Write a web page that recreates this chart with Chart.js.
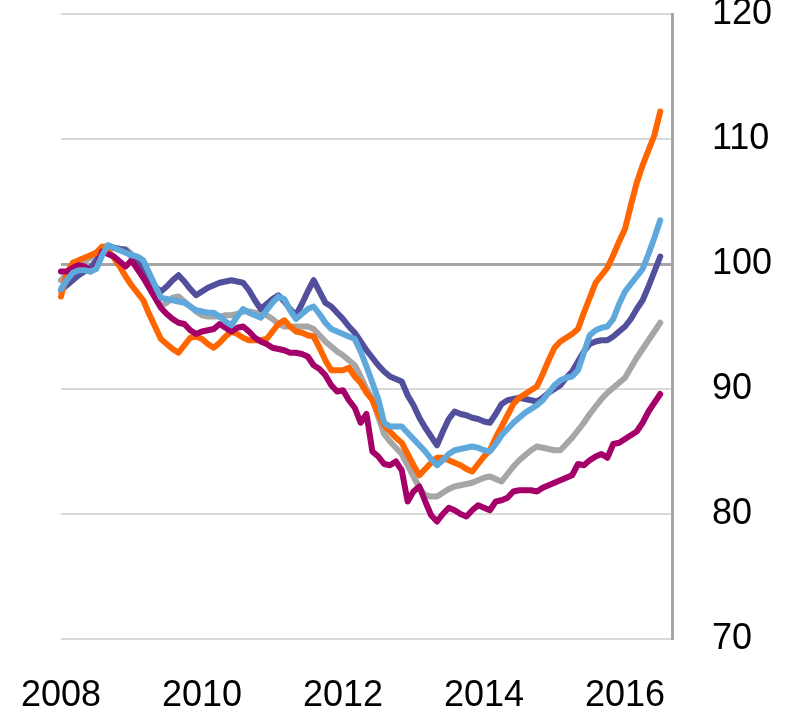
<!DOCTYPE html>
<html>
<head>
<meta charset="utf-8">
<script src="https://cdn.jsdelivr.net/npm/chart.js@4"></script>
<style>
  body { margin: 0; background: #fff; }
  #wrap { width: 800px; height: 708px; }
</style>
</head>
<body>
<div id="wrap"><canvas id="myChart" width="800" height="708"></canvas></div>
<script>
// monthly index, Jan 2008 .. Jul 2016 (two empty months at the end for the axis gap)
const startYear = 2008;
const monthCount = 105;
const months = [];
for (let i = 0; i < monthCount; i++) {
  months.push((startYear + Math.floor(i / 12)) + '-' + String(i % 12 + 1).padStart(2, '0'));
}

const orange = [97.4,99.3,100.1,100.3,100.5,100.7,100.9,101.4,101.1,100.5,99.8,99.0,
  98.3,97.7,97.1,96.0,95.0,94.0,93.6,93.2,92.9,93.5,94.1,94.2,
  94.0,93.6,93.3,93.7,94.2,94.6,94.4,94.1,93.9,93.9,93.9,94.0,
  94.6,95.2,95.5,95.0,94.6,94.5,94.3,94.2,93.3,92.3,91.5,91.5,
  91.5,91.7,91.0,90.5,89.7,89.1,88.0,87.1,86.6,86.1,85.7,84.8,
  83.9,83.1,83.6,84.1,84.5,84.5,84.3,84.1,83.9,83.6,83.4,84.0,
  84.6,85.1,86.1,87.0,87.9,88.8,89.3,89.6,89.9,90.2,91.2,92.3,
  93.3,93.8,94.1,94.4,94.8,96.1,97.3,98.5,99.1,99.7,100.7,101.8,
  102.8,104.7,106.5,107.9,109.1,110.3,112.2];

const lightBlue = [98.0,98.7,99.3,99.5,99.5,99.4,99.6,100.7,101.5,101.3,101.1,100.9,
  100.7,100.6,100.3,99.3,98.3,97.3,97.2,97.1,97.0,96.9,96.6,96.3,
  96.2,96.1,96.1,95.8,95.4,95.1,95.8,96.4,96.1,95.9,95.7,96.3,
  96.9,97.4,97.2,96.3,95.6,96.0,96.4,96.6,96.0,95.3,94.8,94.6,
  94.4,94.2,94.0,93.0,91.8,90.5,89.2,87.3,87.0,87.0,87.0,86.5,
  86.0,85.5,85.0,84.4,83.9,84.3,84.8,85.1,85.2,85.3,85.4,85.3,
  85.1,85.0,85.6,86.3,86.8,87.3,87.7,88.1,88.4,88.7,89.1,89.7,
  90.3,90.7,90.9,91.0,91.5,92.9,94.3,94.7,94.9,95.0,95.6,96.8,
  97.8,98.4,99.0,99.6,100.8,102.1,103.5];

const navy = [97.9,98.3,98.7,99.1,99.4,99.7,100.3,100.9,101.4,101.3,101.2,101.1,
  100.6,100.2,99.5,98.8,98.2,97.8,98.2,98.7,99.1,98.6,98.0,97.5,
  97.8,98.1,98.3,98.5,98.6,98.7,98.6,98.5,97.9,97.1,96.4,96.8,
  97.2,97.5,97.0,96.4,95.9,96.8,97.8,98.7,97.8,96.9,96.6,96.1,
  95.6,95.0,94.5,93.8,93.1,92.5,91.9,91.4,91.0,90.8,90.6,89.5,
  88.7,87.7,86.9,86.2,85.5,86.6,87.6,88.2,88.0,87.9,87.7,87.6,
  87.4,87.3,88.0,88.8,89.1,89.2,89.3,89.2,89.1,89.0,89.3,89.7,
  90.0,90.3,90.9,91.4,92.2,93.0,93.6,93.8,93.9,93.9,94.2,94.6,
  95.0,95.6,96.4,97.1,98.2,99.4,100.6];

const gray = [98.7,99.2,99.6,99.9,100.2,100.5,100.9,101.3,101.5,101.3,101.2,101.2,
  100.8,100.2,99.4,98.5,97.4,96.6,96.9,97.3,97.4,97.0,96.6,96.2,
  95.9,95.8,95.8,95.8,95.9,95.9,96.0,96.2,96.2,96.1,96.0,95.9,
  95.6,95.2,95.0,95.0,95.0,95.0,95.0,94.8,94.3,93.8,93.4,93.0,
  92.7,92.3,91.9,91.0,90.0,89.2,87.8,86.4,85.8,85.3,84.8,83.9,
  83.0,82.1,81.5,81.4,81.4,81.7,82.0,82.2,82.3,82.4,82.5,82.7,
  82.9,83.0,82.8,82.6,83.2,83.8,84.3,84.7,85.1,85.4,85.3,85.2,
  85.1,85.1,85.6,86.1,86.7,87.3,88.0,88.6,89.2,89.7,90.1,90.5,
  90.9,91.7,92.5,93.2,93.9,94.6,95.3];

const magenta = [99.4,99.4,99.7,99.9,99.8,99.4,99.7,101.0,100.8,100.6,100.2,99.8,
  100.3,99.6,98.9,98.1,97.3,96.5,96.0,95.6,95.3,95.2,94.7,94.4,
  94.6,94.7,94.8,95.2,94.9,94.6,94.9,95.0,94.6,94.1,93.8,93.6,
  93.3,93.2,93.1,92.9,92.9,92.8,92.6,91.9,91.6,91.1,90.3,89.8,
  89.9,89.1,88.5,87.3,88.0,85.0,84.6,84.0,83.9,84.2,83.5,81.0,
  81.8,82.2,81.0,79.9,79.4,80.0,80.5,80.3,80.0,79.8,80.3,80.7,
  80.5,80.3,81.0,81.1,81.3,81.8,81.9,81.9,81.9,81.8,82.1,82.3,
  82.5,82.7,82.9,83.1,84.0,83.9,84.3,84.6,84.8,84.5,85.6,85.7,
  86.0,86.3,86.6,87.3,88.2,88.9,89.6];

const yTicks = [70, 80, 90, 100, 110, 120];

Chart.defaults.font.family = '"Liberation Sans", Arial, sans-serif';
Chart.defaults.color = '#000';

function line(data, color) {
  return {
    data: data,
    borderColor: color,
    backgroundColor: color,
    borderWidth: 6,
    pointRadius: 0,
    tension: 0,
    borderCapStyle: 'round',
    borderJoinStyle: 'round',
    fill: false
  };
}

const ctx = document.getElementById('myChart');

new Chart(ctx, {
  type: 'line',
  data: {
    labels: months,
    datasets: [
      line(lightBlue, '#5fa8dc'),
      line(magenta, '#a50069'),
      line(orange, '#ff6600'),
      line(navy, '#524f9c'),
      line(gray, '#a6a6a6')
    ]
  },
  options: {
    responsive: false,
    animation: false,
    layout: { padding: { left: 61, top: 14, right: 0, bottom: 0 } },
    plugins: { legend: { display: false }, tooltip: { enabled: false } },
    scales: {
      x: {
        grid: { display: false },
        border: { display: false },
        ticks: {
          autoSkip: false,
          maxRotation: 0,
          padding: 27,
          font: { size: 36 },
          callback: function (val, i) {
            return i % 24 === 0 ? String(startYear + i / 12) : '';
          }
        },
        afterFit: function (s) {
          s.height = 69;
          s.paddingLeft = 0;
          s.paddingRight = 0;
        }
      },
      y: {
        position: 'right',
        min: yTicks[0],
        max: yTicks[yTicks.length - 1],
        afterBuildTicks: function (s) { s.ticks = yTicks.map(v => ({ value: v })); },
        grid: {
          drawTicks: false,
          color: c => c.tick && c.tick.value === 100 ? '#a6a6a6' : '#d9d9d9',
          lineWidth: c => c.tick && c.tick.value === 100 ? 3 : 2
        },
        border: { color: '#a6a6a6', width: 3 },
        ticks: {
          padding: 40,
          font: { size: 36 }
        },
        afterFit: function (s) {
          s.width = 128;
          s.paddingTop = 0;
          s.paddingBottom = 0;
        }
      }
    }
  }
});
</script>
</body>
</html>
